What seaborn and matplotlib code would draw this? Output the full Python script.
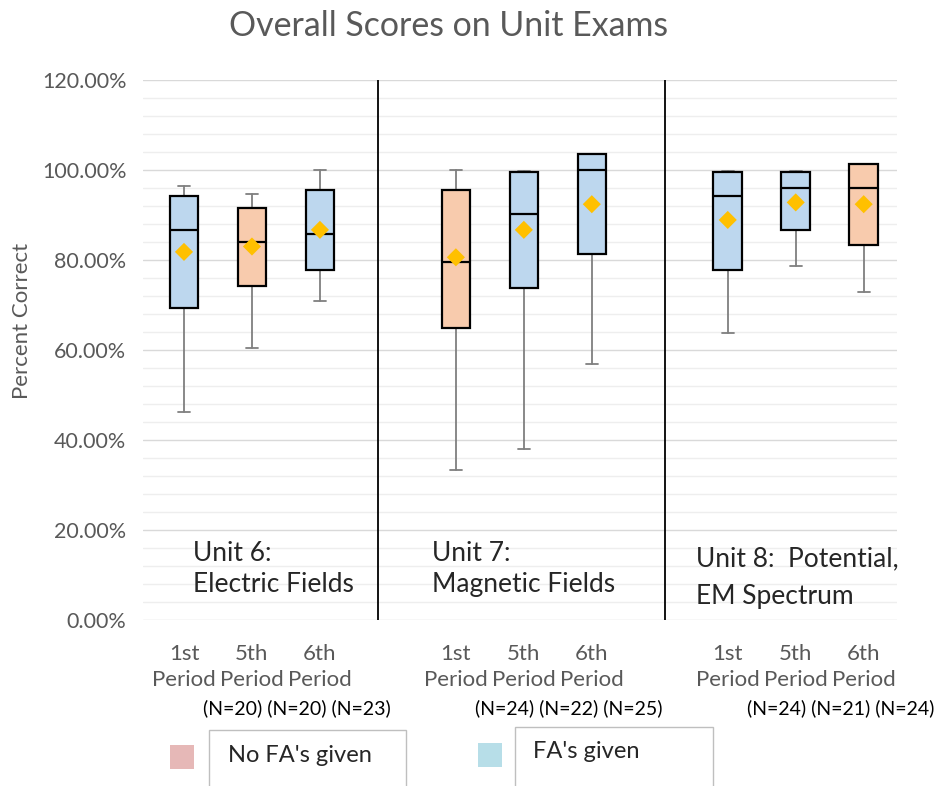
import numpy as np
import pandas as pd
import matplotlib
matplotlib.use("Agg")
import matplotlib.pyplot as plt
import matplotlib.transforms as mtransforms
from matplotlib.patches import Rectangle
from matplotlib.ticker import MultipleLocator, FuncFormatter
import seaborn as sns

# ---------------- data (percent correct) ----------------
units = ["Unit 6", "Unit 7", "Unit 8"]
unit_titles = ["Unit 6:\nElectric Fields", "Unit 7:\nMagnetic Fields", "Unit 8:  Potential,\nEM Spectrum"]
periods = ["1st\nPeriod", "5th\nPeriod", "6th\nPeriod"]
fa_given = [True, False, True, False, True, True, True, True, False]
whisker_low = [46.2, 60.4, 71.0, 33.3, 38.1, 56.9, 63.8, 78.6, 72.8]
q1 = [69.3, 74.2, 77.8, 64.8, 73.8, 81.3, 77.8, 86.6, 83.4]
median = [86.7, 84.1, 85.7, 79.5, 90.3, 100.0, 94.2, 95.9, 95.9]
q3 = [94.2, 91.5, 95.6, 95.6, 99.5, 103.6, 99.5, 99.5, 101.3]
whisker_high = [96.4, 94.7, 100.0, 100.0, 99.8, 103.6, 99.8, 99.8, 100.0]
mean = [81.8, 83.0, 86.7, 80.6, 86.7, 92.4, 88.9, 92.8, 92.4]
n_students = [20, 20, 23, 24, 22, 25, 24, 21, 24]
legend_labels = ["No FA's given", "FA's given"]

# ---------------- style ----------------
W, H = 950, 786
sns.set_theme(style="white")
plt.rcParams['font.family'] = ['Lato', 'DejaVu Sans']
GRAY = "#595959"
BLUE = "#BDD7EE"
ORANGE = "#F8CBAD"

fig = plt.figure(figsize=(W / 100, H / 100), dpi=100)
ax = fig.add_axes([143 / W, 1 - 620 / H, (897 - 143) / W, (620 - 80) / H])

slots = [u * 4 + p for u in range(len(units)) for p in range(len(periods))]

stats = []
for i in range(len(slots)):
    stats.append(dict(med=median[i] / 100, q1=q1[i] / 100, q3=q3[i] / 100,
                      whislo=whisker_low[i] / 100, whishi=whisker_high[i] / 100,
                      fliers=[], label=""))

bp = ax.bxp(stats, positions=slots, widths=0.42, capwidths=0.18,
            patch_artist=True, showfliers=False, manage_ticks=False,
            boxprops=dict(edgecolor="black", linewidth=1.6),
            medianprops=dict(color="black", linewidth=1.6),
            whiskerprops=dict(color="#7f7f7f", linewidth=1.3),
            capprops=dict(color="#7f7f7f", linewidth=1.3))
for patch, g in zip(bp["boxes"], fa_given):
    patch.set_facecolor(BLUE if g else ORANGE)
    patch.set_zorder(3)
for m in bp["medians"]:
    m.set_zorder(4)

df_mean = pd.DataFrame({"pos": slots, "mean": np.array(mean) / 100})
sns.scatterplot(data=df_mean, x="pos", y="mean", marker="D", s=85,
                color="#FFC000", edgecolor="none", zorder=6, ax=ax, legend=False)

# axes
ax.set_xlim(-0.603, 10.49)
ax.set_ylim(0, 1.2)
ax.yaxis.set_major_locator(MultipleLocator(0.2))
ax.yaxis.set_minor_locator(MultipleLocator(0.04))
ax.yaxis.set_major_formatter(FuncFormatter(lambda v, p: f"{v*100:.2f}%"))
ax.grid(which="major", axis="y", color="#d9d9d9", lw=1.0)
ax.grid(which="minor", axis="y", color="#eeeeee", lw=1.0)
ax.set_axisbelow(True)
for s in ax.spines.values():
    s.set_visible(False)
ax.tick_params(axis="y", which="both", length=0, pad=12, labelsize=15.5, labelcolor=GRAY)
ax.set_xticks(slots, labels=periods * len(units))
ax.tick_params(axis="x", length=0, pad=17, labelsize=16, labelcolor=GRAY)
for lab in ax.get_xticklabels():
    lab.set_linespacing(1.42)
ax.set_xlabel("")
ax.set_ylabel("")

# unit dividers
for xd in (2.85, 7.07):
    ax.axvline(xd, color="black", lw=1.3, zorder=2)

# unit titles
title_x = [0.13, 3.65, 7.54]
title_y = [0.113, 0.113, 0.094]
title_ls = [1.32, 1.32, 1.6]
for t, x, y, ls in zip(unit_titles, title_x, title_y, title_ls):
    ax.text(x, y, t, ha="left", va="center", fontsize=19, color="#262626", linespacing=ls)

# N labels
trans = mtransforms.blended_transform_factory(ax.transData, fig.transFigure)
for u in range(len(units)):
    s = " ".join(f"(N={n})" for n in n_students[u * 3:(u + 1) * 3])
    ax.text(u * 4 + 1 + 0.66, 1 - 708 / H, s, transform=trans, ha="center", va="center",
            fontsize=14, color="black")

# title & ylabel
fig.text(449 / W, 1 - 26 / H, "Overall Scores on Unit Exams", ha="center", va="center",
         fontsize=24.4, color=GRAY)
fig.text(22 / W, 1 - 321 / H, "Percent Correct", rotation=90, ha="center", va="center",
         fontsize=16, color=GRAY)

# legend (manual, as in reference)
def px_rect(x0, y0, x1, y1, **kw):
    fig.add_artist(Rectangle((x0 / W, 1 - y1 / H), (x1 - x0) / W, (y1 - y0) / H,
                             transform=fig.transFigure, **kw))

px_rect(170, 745, 194, 769, facecolor="#E6B8B7", edgecolor="none")
px_rect(209, 730, 406, 800, facecolor="white", edgecolor="#bfbfbf", lw=1)
fig.text(228 / W, 1 - 756 / H, legend_labels[0], ha="left", va="center", fontsize=17, color="#262626")
px_rect(478, 743, 502, 767, facecolor="#B7DEE8", edgecolor="none")
px_rect(515, 727, 713, 800, facecolor="white", edgecolor="#bfbfbf", lw=1)
fig.text(533 / W, 1 - 751 / H, legend_labels[1], ha="left", va="center", fontsize=17, color="#262626")

fig.savefig("out.png", dpi=100)
